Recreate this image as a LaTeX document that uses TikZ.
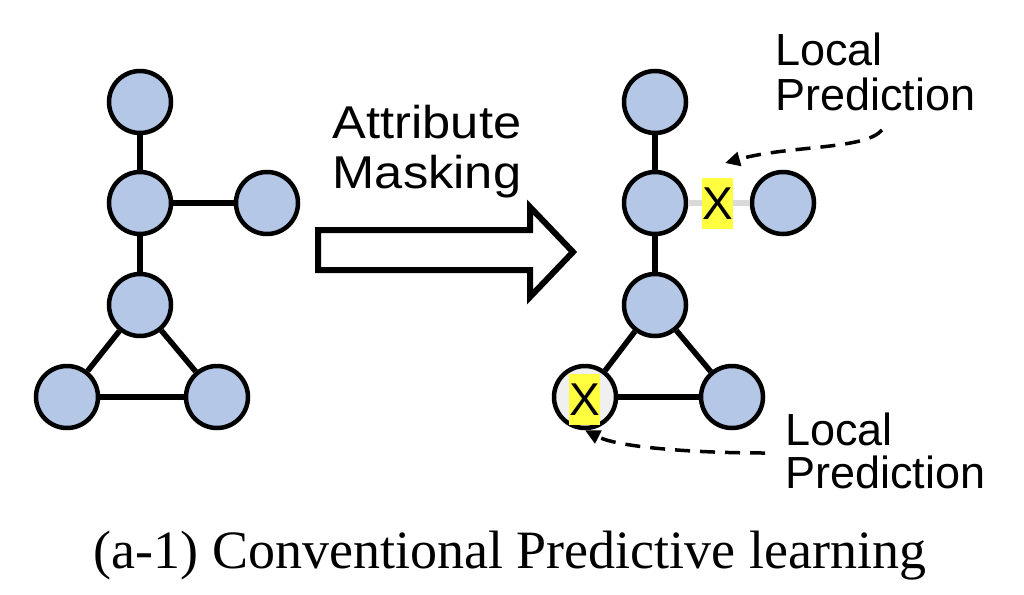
\documentclass[tikz,border=0pt]{standalone}
\usepackage{fontspec}
\setmainfont{Liberation Serif}
\newfontfamily\labelfont{Liberation Sans}
\newfontfamily\wideFont{Liberation Sans}[FakeStretch=1.1]
\usetikzlibrary{arrows.meta}
\definecolor{nodeblue}{HTML}{B4C7E7}
\definecolor{maskgray}{HTML}{F0F0F0}
\definecolor{edgegray}{HTML}{D9D9D9}
\definecolor{markyellow}{HTML}{FFFF40}

\begin{document}
\begin{tikzpicture}[x=1pt, y=-1pt]

\tikzstyle{atom}=[circle, draw, line width=4.5pt, minimum size=62pt, inner sep=0pt, fill=nodeblue]
\tikzstyle{masked}=[fill=maskgray]
\tikzstyle{xbox}=[rectangle, fill=markyellow, minimum width=31pt, minimum height=51pt, inner sep=0pt, font=\labelfont\fontsize{46pt}{46pt}\selectfont]
\tikzstyle{sidetext}=[inner sep=0pt, anchor=base west, font=\labelfont\fontsize{45pt}{45pt}\selectfont]
\tikzstyle{arrowtext}=[inner sep=0pt, anchor=base, font=\wideFont\fontsize{46pt}{46pt}\selectfont]
\tikzstyle{edge1}=[line width=5.5pt]
\tikzstyle{edge2}=[line width=5.5pt, draw=edgegray]
\tikzstyle{edge3}=[-{Triangle[length=15pt, width=14pt]}, line width=3.5pt, dash pattern=on 15pt off 10pt]

\useasboundingbox (0,0) rectangle (1024,594);

% graph before masking
\node[atom] (before1) at (140, 102) {};
\node[atom] (before2) at (140, 203) {};
\node[atom] (before3) at (267, 203) {};
\node[atom] (before4) at (140, 305) {};
\node[atom] (before5) at (67, 397) {};
\node[atom] (before6) at (217, 397) {};

\draw[edge1] (before1) -- (before2);
\draw[edge1] (before2) -- (before3);
\draw[edge1] (before2) -- (before4);
\draw[edge1] (before4) -- (before5);
\draw[edge1] (before4) -- (before6);
\draw[edge1] (before5) -- (before6);

% masking arrow
\draw[line width=6pt, line join=miter] (318, 230) -- (530, 230) -- (530, 207) -- (573, 252)
  -- (530, 297) -- (530, 270) -- (318, 270) -- cycle;
\node[arrowtext] (attr) at (427, 138) {Attribute};
\node[arrowtext] (mask) at (427, 188) {Masking};

% graph after masking
\node[atom] (after1) at (655, 102) {};
\node[atom] (after2) at (655, 203) {};
\node[atom] (after3) at (783, 203) {};
\node[atom] (after4) at (655, 305) {};
\node[atom, masked] (after5) at (585, 397) {};
\node[atom] (after6) at (732, 397) {};

\draw[edge1] (after1) -- (after2);
\draw[edge2] (after2) -- (after3);
\draw[edge1] (after2) -- (after4);
\draw[edge1] (after4) -- (after5);
\draw[edge1] (after4) -- (after6);
\draw[edge1] (after5) -- (after6);

\node[xbox] (xedge) at (717.5, 203.5) {X};
\node[xbox] (xnode) at (584.5, 399.5) {X};

% local prediction labels
\node[sidetext] (local1) at (775, 65) {Local};
\node[sidetext] (pred1) at (775, 110) {Prediction};
\node[sidetext] (local2) at (785, 445) {Local};
\node[sidetext] (pred2) at (785, 488) {Prediction};

\coordinate (from1) at (882, 130);
\coordinate (to1) at (725, 163);
\coordinate (from2) at (765, 453);

\draw[edge3] (from1) .. controls (865, 150) and (790, 145) .. (to1);
\draw[edge3] (from2) .. controls (700, 453) and (620, 448) .. (after5.south);

% caption
\node[inner sep=0pt, anchor=base, font=\fontsize{54pt}{54pt}\selectfont] (caption) at (510, 568) {(a-1) Conventional Predictive learning};

\end{tikzpicture}
\end{document}
